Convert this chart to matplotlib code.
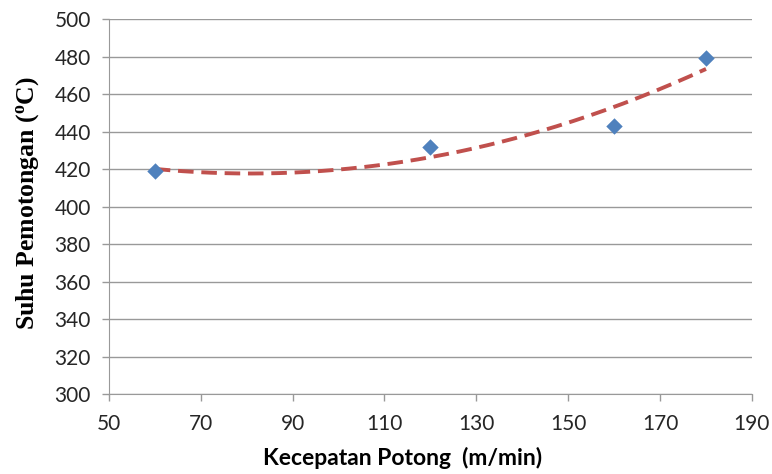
import numpy as np
import matplotlib.pyplot as plt

# -- data --
speed = [60, 120, 160, 180]          # m/min
temp = [419, 432, 443, 479]          # deg C

x_ticks = [50, 70, 90, 110, 130, 150, 170, 190]
y_ticks = [300, 320, 340, 360, 380, 400, 420, 440, 460, 480, 500]

# polynomial (order 2) trendline, like the spreadsheet one
coef = np.polyfit(speed, temp, 2)
x_fit = np.linspace(min(speed), max(speed), 200)
y_fit = np.polyval(coef, x_fit)

fig = plt.figure(figsize=(7.72, 4.74), dpi=100)
ax = fig.add_axes([0.141, 0.168, 0.833, 0.792])

ax.plot(x_fit, y_fit, color='#C0504D', linestyle=(0, (4, 2)), linewidth=2.8, zorder=3)
ax.scatter(speed, temp, marker='D', s=70, color='#4F81BD', zorder=4, linewidths=0)

ax.set_xlim(50, 190)
ax.set_ylim(300, 500)
ax.set_xticks(x_ticks)
ax.set_yticks(y_ticks)
ax.grid(axis='y', color='#999999', linewidth=1.0)
ax.set_axisbelow(True)

for side in ['top', 'right']:
    ax.spines[side].set_visible(False)
for side in ['left', 'bottom']:
    ax.spines[side].set_color('#999999')
ax.tick_params(axis='both', color='#999999', length=5, width=1.0,
               labelsize=15, labelcolor='#262626')
ax.tick_params(axis='x', pad=9)
ax.tick_params(axis='y', pad=8)
for lab in ax.get_xticklabels() + ax.get_yticklabels():
    lab.set_family(['Lato', 'DejaVu Sans'])

ax.set_xlabel('Kecepatan Potong  (m/min)', fontsize=16.5, fontweight='bold',
              family=['Lato', 'DejaVu Sans'])
ax.set_ylabel('Suhu Pemotongan ($\\mathregular{^o}$C)', fontsize=18.5, fontweight='bold',
              family=['Liberation Serif', 'DejaVu Serif'])
ax.xaxis.set_label_coords(0.457, -0.14)
ax.yaxis.set_label_coords(-0.127, 0.51)
ax.yaxis.label.set_verticalalignment('center')

fig.savefig('out.png', dpi=100)
